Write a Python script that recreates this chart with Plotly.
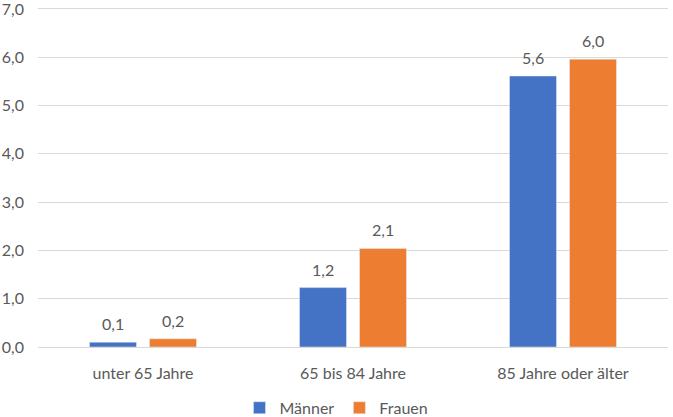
import plotly.graph_objects as go

categories = ["unter 65 Jahre", "65 bis 84 Jahre", "85 Jahre oder älter"]
maenner = [0.1, 1.23, 5.61]
frauen = [0.17, 2.04, 5.96]
maenner_labels = ["0,1", "1,2", "5,6"]
frauen_labels = ["0,2", "2,1", "6,0"]

font_family = "Lato, Open Sans, sans-serif"
gray = "#595959"

fig = go.Figure()
fig.add_trace(go.Bar(x=categories, y=maenner, name="Männer", marker_color="#4472C4"))
fig.add_trace(go.Bar(x=categories, y=frauen, name="Frauen", marker_color="#ED7D31"))

# data labels above bars
for vals, labels, shift in ((maenner, maenner_labels, -30), (frauen, frauen_labels, 30)):
    for cat, v, lab in zip(categories, vals, labels):
        fig.add_annotation(x=cat, y=v, xref="x", yref="y", text=lab, showarrow=False,
                           xshift=shift, yshift=7, yanchor="bottom",
                           font=dict(size=16, color=gray, family=font_family))

fig.update_layout(
    width=673, height=417,
    margin=dict(l=38, r=5, t=7, b=70),
    paper_bgcolor="white", plot_bgcolor="white",
    separators=",.",
    barmode="group", bargap=0.4286, bargroupgap=0.217,
    font=dict(family=font_family, size=15, color=gray),
    showlegend=True,
    legend=dict(orientation="h", xref="container", x=0.5, xanchor="center",
                yref="container", y=0.022, yanchor="middle",
                font=dict(size=16, color=gray), itemwidth=30,
                traceorder="normal"),
    yaxis=dict(range=[0, 7.04], tickvals=[0, 1, 2, 3, 4, 5, 6, 7], tickformat=".1f",
               showgrid=True, gridcolor="#D9D9D9", gridwidth=1, zeroline=False,
               showline=False, ticks="", ticklabelstandoff=13,
               ticklabeloverflow="allow", automargin=False,
               tickfont=dict(size=16, color=gray)),
    xaxis=dict(showline=True, linecolor="#D9D9D9", linewidth=1, ticks="",
               ticklabelstandoff=12, automargin=False,
               tickfont=dict(size=16, color=gray)),
)

fig.write_html("out.html")
